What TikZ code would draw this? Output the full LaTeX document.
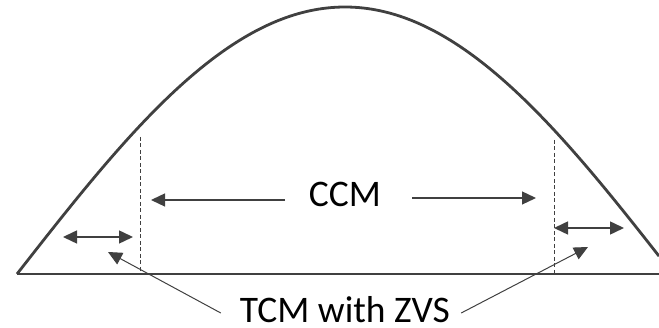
\documentclass[tikz,border=0pt]{standalone}
\usepackage{fontspec}
\setmainfont{Carlito}
\usepackage{tikz}
\usetikzlibrary{arrows.meta}
\definecolor{linegray}{HTML}{404040}
\tikzset{
    pointer/.style={-{Triangle[length=14pt,width=13pt]}, linegray, line width=1.3pt},
    span/.style={{Triangle[length=14pt,width=13pt]}-{Triangle[length=14pt,width=13pt]}, linegray, line width=1.5pt},
    label/.style={font=\fontsize{37.5}{40}\selectfont, inner sep=0pt, text depth=0pt, anchor=base}
}

\begin{document}
\begin{tikzpicture}[x=1pt, y=-1pt]
    \useasboundingbox (0,0) rectangle (659,328);
    % base line and the current envelope
    \draw[linegray, line width=1.3pt] (17,274) -- (659,274);
    \draw[linegray, line width=2.8pt, line join=round]
        plot[domain=17:659, samples=120, smooth] (\x, {274-267*sin((\x-17)/656*180)});
    % borders between the modes
    \foreach \xx/\yy in {140/137, 554/140} {
        \draw[linegray, dashed, dash pattern=on 4pt off 2.5pt, line width=0.9pt] (\xx,\yy) -- (\xx,274);
    }
    % labels
    \node[label] (ccm) at (345,207) {CCM};
    \node[label] (tcm) at (345,323) {TCM with ZVS};
    % mode widths
    \coordinate (ccmL) at (151,200);
    \coordinate (ccmR) at (536,198);
    \draw[pointer] (285,200) -- (ccmL);
    \draw[pointer] (412,198) -- (ccmR);
    \coordinate (tcmLa) at (63,237);
    \coordinate (tcmLb) at (133,237);
    \coordinate (tcmRa) at (554,228);
    \coordinate (tcmRb) at (624,228);
    \draw[span] (tcmLa) -- (tcmLb);
    \draw[span] (tcmRa) -- (tcmRb);
    % pointers from the label
    \coordinate (tipL) at (108,252);
    \coordinate (tipR) at (588,247);
    \draw[pointer, line width=1pt] ([xshift=-19pt]tcm.west |- 0,313) -- (tipL);
    \draw[pointer, line width=1pt] ([xshift=11pt]tcm.east |- 0,313) -- (tipR);
\end{tikzpicture}
\end{document}
